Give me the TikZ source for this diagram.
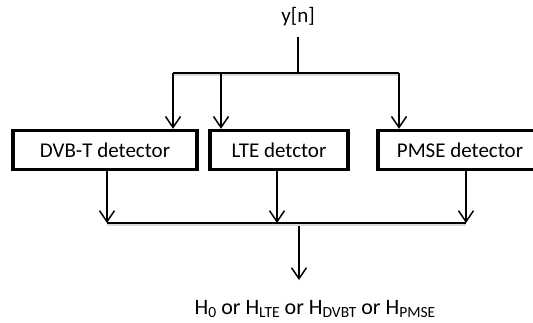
\documentclass[tikz,border=0pt]{standalone}
\usepackage{fontspec}
\setmainfont{Carlito}
\usetikzlibrary{arrows.meta,positioning}

% small lowered index for the hypotheses
\newcommand{\hyp}[1]{\raisebox{-0.12em}{\fontsize{15.5}{15.5}\selectfont #1}}

\begin{document}
\begin{tikzpicture}[x=1pt,y=-1pt,line width=1.5pt,
    >={Straight Barb[length=11pt,width=15pt]},
    font=\fontsize{21}{24}\selectfont,
    det/.style={draw,line width=3.4pt,minimum height=39pt,inner sep=0pt},
    shade/.style={draw=black!15,line width=1.6pt}]
\useasboundingbox (0,0) rectangle (533,322);
\clip (0,0) rectangle (533,322);
% input and detectors
\node[anchor=south,inner sep=0pt] (yn) at (298,27) {y[n]};
\node[det,minimum width=184pt] (dvbt) at (105,150) {DVB-T detector};
\node[det,minimum width=138pt] (lte)  at (279,150) {LTE detctor};
\node[det,minimum width=164pt] (pmse) at (460,150) {PMSE detector};
\node[font=\fontsize{22}{24}\selectfont] (out) at (315,309)
  {H\hyp{0} or H\hyp{LTE} or H\hyp{DVBT} or H\hyp{PMSE}};
% split points
\coordinate (split) at (298,73);
\coordinate (tapA) at (173,73);
\coordinate (tapB) at (221,73);
\coordinate (tapC) at (399,73);
% merge points
\coordinate (joinA) at (107,223);
\coordinate (joinB) at (277,223);
\coordinate (joinC) at (466,223);
\coordinate (merge) at (299,226);
\coordinate (decide) at (299,280);
% fan out
\draw (298,37) -- (split);
\draw[shade] ([yshift=-2pt]tapA) -- ([yshift=-2pt]tapC);
\draw (tapA) -- (tapC);
\draw[->] (tapA) -- (tapA |- dvbt.north);
\draw[->] (tapB) -- (tapB |- lte.north);
\draw[->] (tapC) -- (tapC |- pmse.north);
% fan in
\draw[->] (joinA |- dvbt.south) -- (joinA);
\draw[->] (joinB |- lte.south) -- (joinB);
\draw[->] (joinC |- pmse.south) -- (joinC);
\draw[shade] ([yshift=-2pt]joinA) -- ([yshift=-2pt]joinC);
\draw (joinA) -- (joinC);
\draw[->] (merge) -- (decide);
\end{tikzpicture}
\end{document}
